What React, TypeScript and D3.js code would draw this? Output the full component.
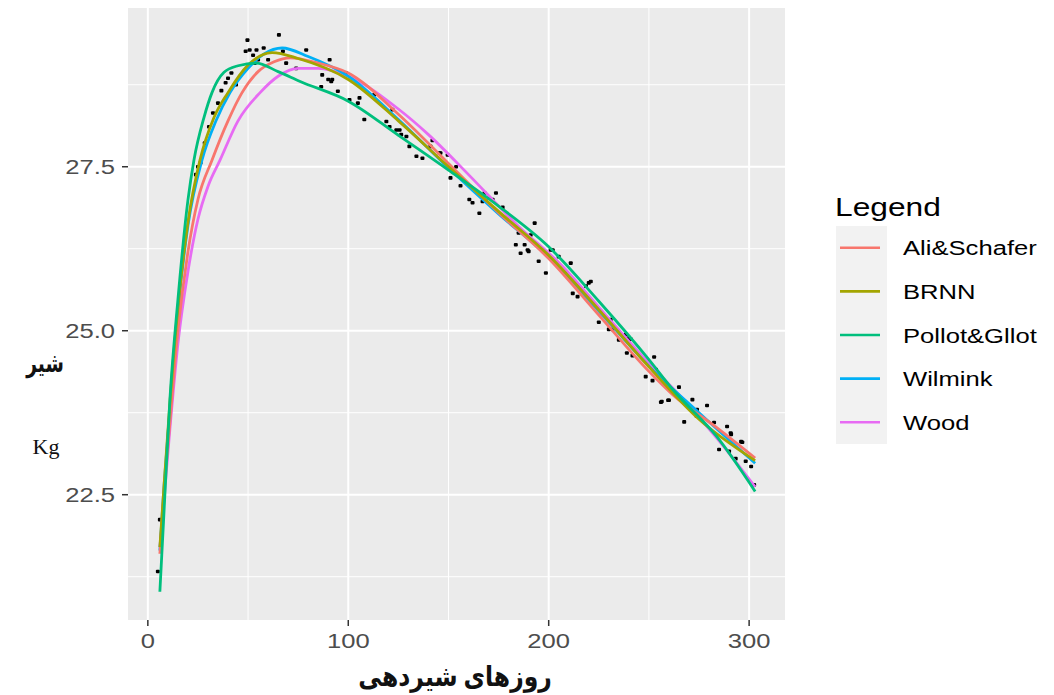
import React from "react";
import * as d3 from "d3";

// observed test-day milk (day, kg)
const observed: [number, number][] = [
  [5, 21.33], [6, 22.12], [24, 27.38], [25, 27.5], [26.3, 27.56], [28.4, 27.86],
  [30.5, 28.11], [32.5, 28.32], [35, 28.47], [36.7, 28.66], [38.8, 28.78], [40, 28.85],
  [41.7, 28.93], [44, 28.75], [48.8, 29.26], [49.7, 29.43], [50.8, 29.28], [52.5, 29.2],
  [53.3, 29.08], [54.2, 29.28], [55, 29.13], [57.8, 29.31], [60, 29.13], [65.4, 29.51],
  [67.4, 29.26], [69, 29.08], [74, 29.0], [79, 29.28], [86.5, 28.72], [87, 28.9],
  [90, 28.83], [90.7, 29.13], [91.5, 28.8], [92, 28.83], [94.8, 28.65], [99, 28.93],
  [100.6, 28.52], [104.8, 28.47], [105.6, 28.55], [108, 28.22], [113, 28.6], [119, 28.19],
  [120.6, 28.11], [122, 28.37], [124, 28.06], [125.6, 28.06], [126.4, 27.99], [129, 27.96],
  [130.5, 27.81], [134, 27.66], [137, 27.63], [141, 27.81], [142, 27.9], [145.5, 27.71],
  [146, 27.71], [149.6, 27.68], [151, 27.33], [153.8, 27.5], [156, 27.21], [160.4, 27.0],
  [162, 26.95], [165.4, 26.79], [167, 26.97], [168, 27.1], [170.4, 27.02], [172, 27.0],
  [173.7, 27.1], [177, 26.88], [183.6, 26.31], [185, 26.49], [186, 26.18], [188, 26.31],
  [189.5, 26.23], [190, 26.21], [191, 26.46], [193, 26.64], [195, 26.06], [198.6, 25.88],
  [201, 26.23], [202, 26.23], [205, 26.13], [208.6, 25.9], [211, 26.03], [212, 25.57],
  [214.4, 25.52], [218.6, 25.68], [220, 25.73], [221, 25.75], [225, 25.13], [230, 25.02],
  [230.9, 25.17], [231.8, 25.02], [235, 24.86], [238.5, 24.94], [239, 24.66], [240, 24.89],
  [241, 24.87], [241.8, 24.62], [248.4, 24.3], [251.8, 24.24], [252.6, 24.6], [253.5, 24.41],
  [256, 23.91], [256.4, 23.92], [259.6, 23.94], [260, 23.94], [265, 24.14], [267.6, 23.61],
  [271.7, 23.95], [273.8, 23.7], [274, 23.8], [279, 23.86], [282.5, 23.6], [285, 23.19],
  [289, 23.54], [290, 23.16], [290.8, 23.44], [291, 23.42], [293.3, 23.05], [296, 23.31],
  [296.6, 23.3], [298.3, 23.01], [301, 22.93], [302.5, 22.65],
];

const aliSchafer: [number, number][] = [
  [6, 21.6], [8, 22.5], [11, 23.6], [15, 25.0], [20, 26.2], [25, 27.0], [32, 27.6],
  [40, 28.2], [47, 28.63], [55, 28.95], [63, 29.1], [71, 29.16], [85, 29.08], [100, 28.93],
  [125, 28.3], [150, 27.55], [175, 26.8], [200, 26.1], [225, 25.24], [250, 24.38],
  [262, 24.02], [284, 23.52], [303, 23.06],
];
const brnn: [number, number][] = [
  [6, 21.7], [8, 22.6], [11, 23.9], [15, 25.35], [20, 26.65], [26, 27.6], [33, 28.25],
  [40, 28.63], [50, 29.05], [62, 29.24], [75, 29.15], [100, 28.83], [125, 28.2],
  [150, 27.5], [175, 26.82], [200, 26.15], [225, 25.32], [250, 24.45], [275, 23.65], [303, 23.02],
];
const pollotGilot: [number, number][] = [
  [6, 21.02], [8, 22.2], [11, 23.95], [15, 25.47], [20, 26.99], [23, 27.6], [28, 28.25],
  [32, 28.63], [38, 28.94], [45, 29.04], [54, 29.08], [65, 28.95], [76, 28.8], [100, 28.5],
  [125, 27.98], [150, 27.45], [175, 26.9], [200, 26.28], [225, 25.45], [250, 24.56],
  [262, 24.1], [284, 23.38], [303, 22.55],
];
const wilmink: [number, number][] = [
  [6, 21.65], [8, 22.6], [11, 23.8], [15, 25.3], [20, 26.6], [27, 27.6], [34, 28.2],
  [41, 28.63], [50, 29.0], [58, 29.22], [67, 29.31], [80, 29.18], [100, 28.88], [125, 28.22],
  [150, 27.48], [175, 26.78], [200, 26.12], [225, 25.3], [250, 24.46], [275, 23.75], [303, 22.98],
];
const wood: [number, number][] = [
  [6, 21.7], [8, 22.4], [11, 23.5], [15, 24.8], [20, 25.9], [25, 26.7], [30, 27.2],
  [36, 27.6], [45, 28.2], [56, 28.63], [65, 28.88], [75, 29.0], [85, 29.0], [100, 28.88],
  [125, 28.38], [140, 27.99], [160, 27.38], [185, 26.59], [207, 25.98], [225, 25.36],
  [250, 24.5], [267, 23.96], [284, 23.36], [303, 22.62],
];

const legendNames = ["Ali&Schafer", "BRNN", "Pollot&Gllot", "Wilmink", "Wood"];
const seriesData = [aliSchafer, brnn, pollotGilot, wilmink, wood];
const colors = ["#F8766D", "#A3A500", "#00BF7D", "#00B0F6", "#E76BF3"];
const drawOrder = [4, 3, 0, 1, 2];

const xTicks = [0, 100, 200, 300];
const xMinor = [50, 150, 250];
const yTicks = [22.5, 25.0, 27.5];
const yMinor = [21.25, 23.75, 26.25, 28.75];

const SX = 1.22; // the source image is stretched horizontally

function Stretched({ x, y, anchor = "start", size, fill = "#000", weight = "normal", sx = SX, family = "Arial, 'Liberation Sans', sans-serif", children }: any) {
  return (
    <text
      transform={`translate(${x},${y}) scale(${sx},1)`}
      textAnchor={anchor}
      fontSize={size}
      fill={fill}
      fontWeight={weight}
      fontFamily={family}
    >
      {children}
    </text>
  );
}

export default function App() {
  const width = 1054;
  const height = 695;
  const P = { left: 128, right: 785, top: 8, bottom: 620 };

  const x = d3.scaleLinear().domain([-9.9, 317.9]).range([P.left, P.right]);
  const y = d3.scaleLinear().domain([20.59, 29.92]).range([P.bottom, P.top]);

  const line = d3
    .line<[number, number]>()
    .x((d) => x(d[0]))
    .y((d) => y(d[1]))
    .curve(d3.curveMonotoneX);

  const keyTop = 226;
  const keyH = 43.6;
  const arabic = "'Liberation Serif', 'DejaVu Sans', serif";

  return (
    <svg width={width} height={height} style={{ position: "absolute", left: 0, top: 0, background: "#fff" }}>
      <rect x={P.left} y={P.top} width={P.right - P.left} height={P.bottom - P.top} fill="#EBEBEB" />
      {xMinor.map((t) => (
        <line key={"xm" + t} x1={x(t)} x2={x(t)} y1={P.top} y2={P.bottom} stroke="#fff" strokeWidth={1} />
      ))}
      {yMinor.map((t) => (
        <line key={"ym" + t} x1={P.left} x2={P.right} y1={y(t)} y2={y(t)} stroke="#fff" strokeWidth={1} />
      ))}
      {xTicks.map((t) => (
        <line key={"xg" + t} x1={x(t)} x2={x(t)} y1={P.top} y2={P.bottom} stroke="#fff" strokeWidth={2} />
      ))}
      {yTicks.map((t) => (
        <line key={"yg" + t} x1={P.left} x2={P.right} y1={y(t)} y2={y(t)} stroke="#fff" strokeWidth={2} />
      ))}

      {observed.map((d, i) => (
        <rect key={i} x={x(d[0]) - 2} y={y(d[1]) - 1.8} width={4} height={3.6} rx={1} fill="#000" />
      ))}

      {drawOrder.map((i) => (
        <path key={legendNames[i]} d={line(seriesData[i]) ?? ""} fill="none" stroke={colors[i]} strokeWidth={2.8} />
      ))}

      {/* axes */}
      {xTicks.map((t) => (
        <g key={"xt" + t}>
          <line x1={x(t)} x2={x(t)} y1={P.bottom} y2={P.bottom + 6} stroke="#333" strokeWidth={1.5} />
          <Stretched x={x(t)} y={648} anchor="middle" size={21} fill="#4D4D4D">{t}</Stretched>
        </g>
      ))}
      {yTicks.map((t) => (
        <g key={"yt" + t}>
          <line x1={P.left - 6} x2={P.left} y1={y(t)} y2={y(t)} stroke="#333" strokeWidth={1.5} />
          <Stretched x={115} y={y(t) + 7.5} anchor="end" size={21} fill="#4D4D4D">{t.toFixed(1)}</Stretched>
        </g>
      ))}

      <Stretched x={455} y={686} anchor="middle" size={28} weight="bold" sx={0.84} fill="#111" family={arabic}>
        روزهای شیردهی
      </Stretched>
      <Stretched x={45} y={372} anchor="middle" size={26} weight="bold" sx={0.72} fill="#111" family={arabic}>
        شیر
      </Stretched>
      <text x={46} y={454} textAnchor="middle" fontSize={22} fontFamily="'Liberation Serif', 'Times New Roman', serif" fill="#111">
        Kg
      </text>

      {/* legend */}
      <Stretched x={835} y={216} size={26}>Legend</Stretched>
      <rect x={836} y={keyTop} width={51} height={keyH * legendNames.length} fill="#F2F2F2" />
      {legendNames.map((name, i) => {
        const cy = keyTop + keyH * i + keyH / 2;
        return (
          <g key={name}>
            <line x1={840} x2={880} y1={cy} y2={cy} stroke={colors[i]} strokeWidth={2.6} />
            <Stretched x={903} y={cy + 7.5} size={21}>{name}</Stretched>
          </g>
        );
      })}
    </svg>
  );
}
